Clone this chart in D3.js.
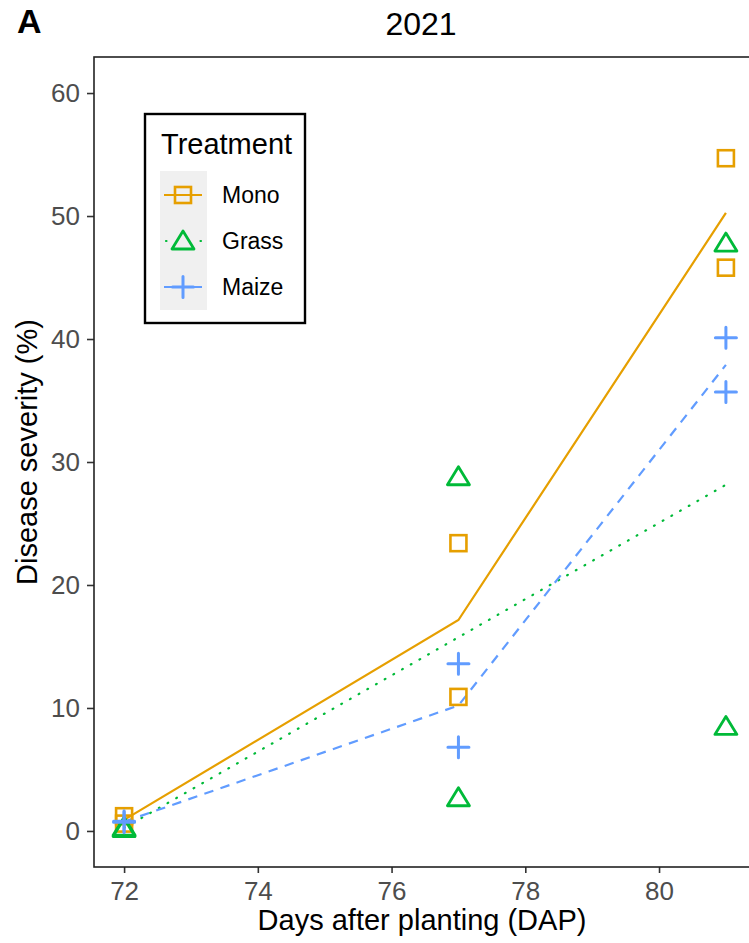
<!DOCTYPE html>
<html>
<head>
<meta charset="utf-8">
<script src="https://cdn.jsdelivr.net/npm/d3@7"></script>
<style>
  body { margin: 0; background: #fff; }
  text { font-family: "Liberation Sans", Arial, sans-serif; }
</style>
</head>
<body>
<script>
// data (two reps per treatment and date)
var days = [72, 72, 77, 77, 81, 81];
var mono  = [1.2, 0.6, 23.4, 10.9, 54.7, 45.8];
var grass = [0.3, 0.2, 28.8, 2.7, 47.8, 8.5];
var maize = [0.8, 0.7, 13.6, 6.8, 40.1, 35.7];
var xTicks = [72, 74, 76, 78, 80];
var yTicks = [0, 10, 20, 30, 40, 50, 60];

var series = [
  {name: "Mono", color: "#E69F00", shape: "square", dash: null, values: mono},
  {name: "Grass", color: "#00BA38", shape: "triangle", dash: "0.8,9.2", values: grass},
  {name: "Maize", color: "#619CFF", shape: "plus", dash: "9.5,7.5", values: maize}
];

var W = 749, H = 943;
var panel = {left: 94, top: 57, right: 756, bottom: 867};

var svg = d3.select("body").append("svg")
    .attr("width", W)
    .attr("height", H);

var x = d3.scaleLinear().domain([71.55, 81.45]).range([panel.left, panel.right]);
var y = d3.scaleLinear().domain([-2.93, 62.93]).range([panel.bottom, panel.top]);

// mean per day for lines
series.forEach(function(s) {
  var byDay = d3.rollups(days.map(function(d, i) { return {day: d, v: s.values[i]}; }),
    function(g) { return d3.mean(g, function(e) { return e.v; }); },
    function(e) { return e.day; });
  s.means = byDay.map(function(p) { return {day: p[0], v: p[1]}; });
});

// title and tag
svg.append("text").attr("x", 421).attr("y", 35).attr("text-anchor", "middle")
  .attr("font-size", 32).text("2021");
svg.append("text").attr("x", 17).attr("y", 33)
  .attr("font-size", 34).attr("font-weight", "bold").text("A");

// axes
var xAxis = svg.append("g")
  .attr("transform", "translate(0," + panel.bottom + ")")
  .call(d3.axisBottom(x).tickValues(xTicks).tickSize(6).tickPadding(9));
var yAxis = svg.append("g")
  .attr("transform", "translate(" + panel.left + ",0)")
  .call(d3.axisLeft(y).tickValues(yTicks).tickSize(7).tickPadding(7));
[xAxis, yAxis].forEach(function(g) {
  g.select(".domain").remove();
  g.selectAll(".tick line").attr("stroke", "#333").attr("stroke-width", 1.6);
  g.selectAll(".tick text").attr("fill", "#4D4D4D").attr("font-size", 26)
    .attr("font-family", "Liberation Sans, Arial, sans-serif");
});

// panel border
svg.append("rect")
  .attr("x", panel.left).attr("y", panel.top)
  .attr("width", panel.right - panel.left).attr("height", panel.bottom - panel.top)
  .attr("fill", "none").attr("stroke", "#222").attr("stroke-width", 1.6);

// axis titles
svg.append("text").attr("x", 422).attr("y", 930).attr("text-anchor", "middle")
  .attr("font-size", 29).text("Days after planting (DAP)");
svg.append("text").attr("transform", "translate(37,452) rotate(-90)")
  .attr("text-anchor", "middle").attr("font-size", 29).text("Disease severity (%)");

// lines
var line = d3.line().x(function(d) { return x(d.day); }).y(function(d) { return y(d.v); });
svg.selectAll(".mean-line").data(series).enter().append("path")
  .attr("class", "mean-line")
  .attr("d", function(d) { return line(d.means); })
  .attr("fill", "none")
  .attr("stroke", function(d) { return d.color; })
  .attr("stroke-width", 2.2)
  .attr("stroke-linecap", function(d) { return d.shape == "triangle" ? "round" : "butt"; })
  .attr("stroke-dasharray", function(d) { return d.dash; });

function drawShape(g, shape, color) {
  if (shape == "square") {
    g.append("rect").attr("x", -8).attr("y", -8).attr("width", 16).attr("height", 16)
      .attr("fill", "none").attr("stroke", color).attr("stroke-width", 2.6);
  } else if (shape == "triangle") {
    g.append("path").attr("d", "M0,-10L11,8L-11,8Z")
      .attr("fill", "none").attr("stroke", color).attr("stroke-width", 2.8)
      .attr("stroke-linejoin", "round");
  } else {
    g.append("path").attr("d", "M-10.5,0H10.5M0,-10.5V10.5")
      .attr("stroke", color).attr("stroke-width", 3).attr("stroke-linecap", "round");
  }
}

// points
series.forEach(function(s) {
  s.values.forEach(function(v, i) {
    var g = svg.append("g").attr("transform", "translate(" + x(days[i]) + "," + y(v) + ")");
    drawShape(g, s.shape, s.color);
  });
});

// legend
var leg = svg.append("g").attr("transform", "translate(145,114)");
leg.append("rect").attr("width", 160).attr("height", 209)
  .attr("fill", "#fff").attr("stroke", "#000").attr("stroke-width", 2.4);
leg.append("text").attr("x", 16).attr("y", 40).attr("font-size", 29).text("Treatment");
leg.append("rect").attr("x", 15).attr("y", 57).attr("width", 47).attr("height", 139)
  .attr("fill", "#F0F0F0");
series.forEach(function(s, i) {
  var ky = 81 + i * 46;
  var dotted = s.shape == "triangle";
  leg.append("line").attr("x1", dotted ? 21 : 19).attr("x2", 57)
    .attr("y1", ky).attr("y2", ky)
    .attr("stroke", s.color).attr("stroke-width", 2.2)
    .attr("stroke-linecap", dotted ? "round" : "butt")
    .attr("stroke-dasharray", dotted ? "0.5,34" : null);
  var g = leg.append("g").attr("transform", "translate(38," + ky + ")");
  drawShape(g, s.shape, s.color);
  leg.append("text").attr("x", 77).attr("y", ky + 8).attr("font-size", 23).text(s.name);
});
</script>
</body>
</html>
